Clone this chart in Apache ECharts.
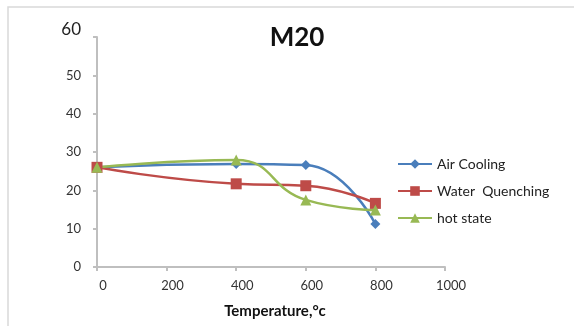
<!DOCTYPE html>
<html>
<head>
<meta charset="utf-8">
<script src="https://cdn.jsdelivr.net/npm/echarts@6/dist/echarts.min.js"></script>
<style>
  html, body { margin: 0; padding: 0; background: #fff; }
  #chart { width: 574px; height: 326px; }
</style>
</head>
<body>
<div id="chart"></div>
<script>
const temps = [0, 400, 600, 800]
const airCooling = [26, 26.9, 26.6, 11.2]
const waterQuenching = [26, 21.7, 21.2, 16.6]
const hotState = [26, 27.9, 17.5, 14.9]

const pairs = (ys) => temps.map((t, i) => [t, ys[i]])

const chart = echarts.init(document.getElementById('chart'))
const font = 'Lato, "Liberation Sans", sans-serif'

chart.setOption({
  animation: false,
  textStyle: { fontFamily: font },
  title: {
    text: 'M20',
    left: 292,
    textAlign: 'center',
    top: 20,
    textStyle: { fontSize: 26, fontWeight: 'bold', color: '#111', fontFamily: font },
  },
  graphic: [{
    type: 'rect',
    shape: { x: 8, y: 7, width: 600, height: 340 },
    style: { fill: 'none', stroke: '#d9d9d9', lineWidth: 1.5 },
    silent: true,
  }],
  legend: {
    orient: 'vertical',
    left: 392,
    top: 152,
    itemWidth: 34,
    itemHeight: 12,
    itemGap: 13,
    textStyle: { fontSize: 14, color: '#222', fontFamily: font },
  },
  grid: { left: 97, right: 129, top: 37, bottom: 59 },
  xAxis: {
    type: 'value',
    min: 0, max: 1000, interval: 200,
    name: 'Temperature,°c',
    nameLocation: 'middle',
    nameGap: 37,
    nameTextStyle: { fontSize: 15, fontWeight: 'bold', color: '#111', padding: [0, 0, 0, 8] },
    axisLine: { lineStyle: { color: '#bfbfbf', width: 2 } },
    axisTick: { show: true, length: 4, lineStyle: { color: '#bfbfbf', width: 2 } },
    axisLabel: { fontSize: 13, color: '#333', margin: 12, padding: [0, 0, 0, 12], formatter: (v) => String(v) },
    splitLine: { show: false },
  },
  yAxis: {
    type: 'value',
    min: 0, max: 60, interval: 10,
    axisLine: { show: true, lineStyle: { color: '#bfbfbf', width: 2 } },
    axisTick: { show: true, length: 4, lineStyle: { color: '#bfbfbf', width: 2 } },
    axisLabel: {
      fontSize: 13, color: '#333', margin: 16,
      formatter: (v) => v === 60 ? '{big|60}' : String(v),
      rich: { big: { fontSize: 17, color: '#222', fontFamily: font, padding: [0, 0, 14, 0] } },
    },
    splitLine: { show: false },
  },
  series: [
    {
      name: 'Air Cooling', type: 'line', smooth: 0.5,
      data: pairs(airCooling),
      symbol: 'diamond', symbolSize: 10,
      itemStyle: { color: '#4a7ebb' },
      lineStyle: { width: 2.5, color: '#4a7ebb' },
    },
    {
      name: 'Water  Quenching', type: 'line', smooth: 0.5,
      data: pairs(waterQuenching),
      symbol: 'rect', symbolSize: 11,
      itemStyle: { color: '#be4b48' },
      lineStyle: { width: 2.5, color: '#be4b48' },
    },
    {
      name: 'hot state', type: 'line', smooth: 0.5,
      data: pairs(hotState),
      symbol: 'triangle', symbolSize: 11,
      itemStyle: { color: '#98b954' },
      lineStyle: { width: 2.5, color: '#98b954' },
    },
  ],
})
</script>
</body>
</html>
